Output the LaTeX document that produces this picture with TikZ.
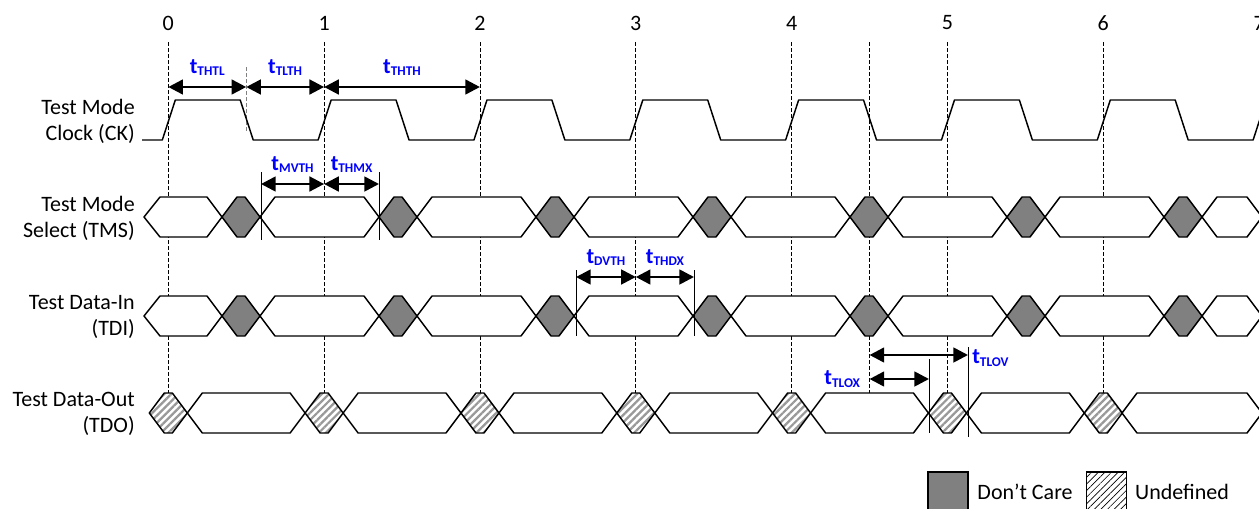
\documentclass[tikz,border=0pt]{standalone}
\usepackage{fontspec}
\setmainfont{Carlito}
\usetikzlibrary
  {
    arrows.meta,   % triangle tips on the timing arrows
    patterns.meta, % striped undefined regions
    positioning,   % place labels next to arrows and boxes
  }
\definecolor{dcgray}{RGB}{128,128,128}
\newcommand{\tname}[1]{t\raisebox{-.25ex}{\fontsize{10}{10}\selectfont #1}}

\begin{document}
\begin{tikzpicture}[x=0.75pt, y=-0.75pt,
    wave/.style={line width=1.1pt, line join=round},
    bus/.style={wave, fill=white},
    dontcare/.style={wave, fill=dcgray},
    undef/.style={wave, preaction={fill=white},
      pattern={Lines[angle=45,distance=3.8pt,line width=1.7pt]}, pattern color=dcgray!80},
    guide/.style={line width=0.6pt, dash pattern=on 3pt off 1.5pt},
    span/.style={line width=2pt, {Triangle[length=11pt,width=11pt]}-{Triangle[length=11pt,width=11pt]}},
    marker/.style={line width=0.6pt},
    tlab/.style={text=blue, font=\fontsize{16.5}{16}\selectfont\bfseries, inner sep=0pt},
    signame/.style={align=right, anchor=east, inner sep=0pt, font=\fontsize{16.5}{19.5}\selectfont},
    legbox/.style={draw, line width=0.8pt, minimum size=30pt, inner sep=0pt},
    legtext/.style={inner sep=0pt, font=\fontsize{16.5}{16}\selectfont},
  ]
  \useasboundingbox (0,0) rectangle (1259,508);
  \clip (0,0) rectangle (1259,508);
  \def\per{155.83}
  \def\xo{168.3}

  % clock numbers and dashed guides
  \foreach \k in {0,...,7}
    {
      \coordinate (t\k) at ({\xo+\k*\per},42);
      \node [font=\fontsize{16.5}{16}\selectfont] (n\k) at ({\xo+\k*\per},23) {\k};
    }
  \coordinate (t4h) at ({\xo+4.5*\per},42);
  \coordinate (gend) at (0,393);
  \foreach \g in {t0,t1,t2,t3,t4,t4h,t5,t6}
    \draw [guide] (\g) -- (\g |- gend);
  \coordinate (h0) at ({\xo+.5*\per},67);
  \draw [guide, gray] (h0) -- (h0 |- 0,133);

  % signal names
  \node [signame] (ck)  at (135,121) {Test Mode\\Clock (CK)};
  \node [signame] (tms) at (135,218) {Test Mode\\Select (TMS)};
  \node [signame] (tdi) at (135,317) {Test Data-In\\(TDI)};
  \node [signame] (tdo) at (135,414) {Test Data-Out\\(TDO)};

  % clock
  \draw [wave] (142,140)
    \foreach \k in {0,...,7}
      { -- ({\xo+\k*\per-6},140) -- ({\xo+\k*\per+7},100)
        -- ({\xo+(\k+.5)*\per-6},100) -- ({\xo+(\k+.5)*\per+7},140) };

  % TMS and TDI buses
  \foreach \m in {217,316}
    {
      \draw [bus] (144,\m) -- (160,\m-20) -- (207,\m-20) -- (222,\m)
        -- (207,\m+20) -- (160,\m+20) -- cycle;
      \foreach \j in {0,...,6}
        {
          \pgfmathsetmacro\c{241+157*\j}
          \draw [dontcare] (\c-19,\m) -- (\c-4,\m-20) -- (\c+4,\m-20) -- (\c+19,\m)
            -- (\c+4,\m+20) -- (\c-4,\m+20) -- cycle;
        }
      \foreach \j in {0,...,5}
        {
          \pgfmathsetmacro\c{241+157*\j}
          \draw [bus] (\c+19,\m) -- (\c+34,\m-20) -- (\c+123,\m-20) -- (\c+138,\m)
            -- (\c+123,\m+20) -- (\c+34,\m+20) -- cycle;
        }
      \draw [bus] (1202,\m) -- (1217,\m-20) -- (1247,\m-20) -- (1262,\m)
        -- (1247,\m+20) -- (1217,\m+20) -- cycle;
    }

  % TDO bus
  \foreach \k in {0,...,6}
    {
      \pgfmathsetmacro\c{\xo+\k*\per}
      \draw [undef] (\c-19,413) -- (\c-4,393) -- (\c+4,393) -- (\c+19,413)
        -- (\c+4,433) -- (\c-4,433) -- cycle;
    }
  \foreach \k in {0,...,5}
    {
      \pgfmathsetmacro\a{\xo+\k*\per+19}
      \pgfmathsetmacro\b{\xo+(\k+1)*\per-19}
      \draw [bus] (\a,413) -- (\a+15,393) -- (\b-15,393) -- (\b,413)
        -- (\b-15,433) -- (\a+15,433) -- cycle;
    }
  \draw [bus] (1122,413) -- (1137,393) -- (1247,393) -- (1262,413)
    -- (1247,433) -- (1137,433) -- cycle;

  % clock timing
  \coordinate (ya) at (0,87);
  \draw [span] (t0 |- ya) -- node [tlab, above=7.5pt] (thtl) {\tname{THTL}} (h0 |- ya);
  \draw [span] (h0 |- ya) -- node [tlab, above=7.5pt] (tlth) {\tname{TLTH}} (t1 |- ya);
  \draw [span] (t1 |- ya) -- node [tlab, above=7.5pt] (thth) {\tname{THTH}} (t2 |- ya);

  % TMS setup and hold
  \coordinate (mv) at (261,172);
  \coordinate (hx) at (379,172);
  \draw [marker] (mv) -- (mv |- 0,240);
  \draw [marker] (hx) -- (hx |- 0,240);
  \coordinate (yb) at (0,184);
  \draw [span] (mv |- yb) -- node [tlab, above=7.5pt] (mvth) {\tname{MVTH}} (t1 |- yb);
  \draw [span] (t1 |- yb) -- node [tlab, above=7.5pt] (thmx) {\tname{THMX}} (hx |- yb);

  % TDI setup and hold
  \coordinate (dv) at (576,270);
  \coordinate (hd) at (694,270);
  \draw [marker] (dv) -- (dv |- 0,336);
  \draw [marker] (hd) -- (hd |- 0,336);
  \coordinate (yc) at (0,277);
  \draw [span] (dv |- yc) -- node [tlab, above=7.5pt] (dvth) {\tname{DVTH}} (t3 |- yc);
  \draw [span] (t3 |- yc) -- node [tlab, above=7.5pt] (thdx) {\tname{THDX}} (hd |- yc);

  % TDO output delays
  \coordinate (lox) at (929,359);
  \coordinate (lov) at (968,347);
  \draw [marker] (lox) -- (lox |- 0,433);
  \draw [marker] (lov) -- (lov |- 0,437);
  \coordinate (yd) at (0,355);
  \coordinate (ye) at (0,379);
  \draw [span] (t4h |- yd) -- (lov |- yd);
  \draw [span] (t4h |- ye) -- (lox |- ye);
  \node [tlab, anchor=west] (tlov) at (972,358) {\tname{TLOV}};
  \node [tlab, left=7pt of {t4h |- ye}] (tlox) {\tname{TLOX}};

  % legend
  \node [legbox, fill=dcgray] (dcbox) at (948,492) {};
  \node [legtext, right=6.5pt of dcbox] (dctext) {Don’t Care};
  \node [legbox, right=10pt of dctext, pattern={Lines[angle=45,distance=3.5pt,line width=0.5pt]}] (udbox) {};
  \node [legtext, right=6pt of udbox] (udtext) {Undefined};
\end{tikzpicture}
\end{document}
